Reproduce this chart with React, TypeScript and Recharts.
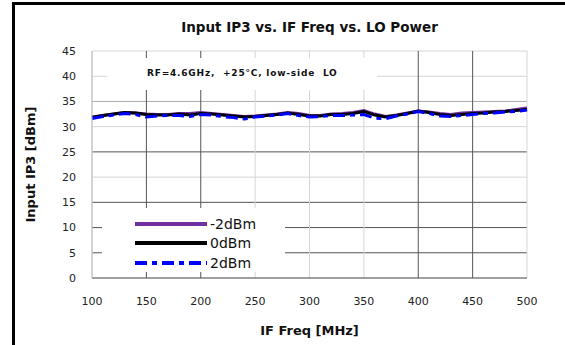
import React from 'react';
import { LineChart, Line, XAxis, YAxis, ReferenceLine, Legend } from 'recharts';

const freqs = [
  100, 110, 120, 130, 140, 150, 160, 170, 180, 190, 200, 210, 220, 230, 240, 250, 260, 270, 280, 290, 300,
  310, 320, 330, 340, 350, 360, 370, 380, 390, 400, 410, 420, 430, 440, 450, 460, 470, 480, 490, 500,
];

const ip3Minus2 = [
  31.9, 32.2, 32.5, 32.8, 32.7, 32.5, 32.4, 32.4, 32.6, 32.6, 32.8, 32.6, 32.4, 32.2, 32.0, 32.1, 32.3, 32.5, 32.8, 32.6, 32.2,
  32.2, 32.5, 32.6, 32.8, 33.2, 32.5, 32.0, 32.3, 32.7, 33.1, 32.9, 32.6, 32.4, 32.7, 32.8, 32.9, 33.0, 33.1, 33.4, 33.7,
];
const ip3Zero = [
  31.8, 32.2, 32.5, 32.8, 32.7, 32.4, 32.3, 32.3, 32.5, 32.3, 32.6, 32.5, 32.3, 32.1, 31.9, 32.0, 32.2, 32.4, 32.7, 32.4, 32.1,
  32.1, 32.4, 32.4, 32.6, 33.0, 32.3, 31.9, 32.2, 32.6, 33.1, 32.8, 32.4, 32.2, 32.4, 32.6, 32.7, 32.9, 33.0, 33.2, 33.4,
];
const ip3Plus2 = [
  31.6, 32.0, 32.3, 32.6, 32.4, 31.9, 32.1, 32.2, 32.2, 32.0, 32.4, 32.3, 32.0, 31.8, 31.5, 31.9, 32.1, 32.3, 32.6, 32.2, 31.9,
  32.0, 32.2, 32.2, 32.3, 32.4, 31.7, 31.6, 32.1, 32.5, 33.0, 32.6, 32.1, 32.0, 32.2, 32.4, 32.6, 32.7, 32.9, 33.0, 33.3,
];

const xTicks = [100, 150, 200, 250, 300, 350, 400, 450, 500];
const yTicks = [0, 5, 10, 15, 20, 25, 30, 35, 40, 45];

// the scanned original has some grid lines darker than others
const darkX = [150, 200, 400, 450];
const darkY = [5, 10, 15, 25];
const midY = [35];

const series = [
  { key: 'm2', name: '-2dBm', color: '#7030a0', dash: undefined },
  { key: 'z0', name: '0dBm', color: '#000000', dash: undefined },
  { key: 'p2', name: '2dBm', color: '#0000ff', dash: '12 5 5 5' },
];

const data = freqs.map((f, i) => ({ freq: f, m2: ip3Minus2[i], z0: ip3Zero[i], p2: ip3Plus2[i] }));

const FONT = '"DejaVu Sans", Verdana, sans-serif';

const YTitle = ({ viewBox }: any) => {
  const cx = viewBox.x + 30;
  const cy = viewBox.y + viewBox.height / 2;
  return (
    <text x={cx} y={cy} transform={`rotate(-90 ${cx} ${cy})`} textAnchor="middle" dominantBaseline="central"
      fontFamily={FONT} fontWeight="bold" fontSize={13} fill="#111">
      Input IP3 [dBm]
    </text>
  );
};

const XTitle = ({ viewBox }: any) => (
  <text x={viewBox.x + viewBox.width / 2} y={330} textAnchor="middle" dominantBaseline="central"
    fontFamily={FONT} fontWeight="bold" fontSize={13} fill="#111">
    IF Freq [MHz]
  </text>
);

const renderLegend = () => (
  <div style={{ paddingTop: 6, paddingLeft: 33, fontFamily: FONT, fontSize: 14, color: '#111' }}>
    {series.map((s) => (
      <div key={s.key} style={{ display: 'flex', alignItems: 'center', height: 19.5 }}>
        <svg width={72} height={6}>
          <line x1={0} y1={3} x2={72} y2={3} stroke={s.color} strokeWidth={4} strokeDasharray={s.dash} />
        </svg>
        <span style={{ marginLeft: 3 }}>{s.name}</span>
      </div>
    ))}
  </div>
);

export default function App() {
  return (
    <div style={{ position: 'absolute', left: 0, top: 0, width: 565, height: 345, background: '#fff' }}>
      <div style={{ position: 'absolute', left: 12, top: 2, width: 553, height: 343, borderTop: '3px solid #000', borderLeft: '3px solid #000', boxSizing: 'border-box' }} />
      <div style={{ position: 'absolute', left: 92, width: 435, top: 19, textAlign: 'center', fontFamily: FONT, fontWeight: 'bold', fontSize: 13.5, color: '#111' }}>
        Input IP3 vs. IF Freq vs. LO Power
      </div>
      <LineChart width={565} height={345} data={data} margin={{ top: 51, right: 38, bottom: 0, left: 0 }}>
        {yTicks.map((v) => (
          <ReferenceLine key={'y' + v} y={v} stroke={darkY.includes(v) ? '#555' : midY.includes(v) ? '#aaa' : '#d6d6d6'} strokeWidth={1} />
        ))}
        {xTicks.map((v) => (
          <ReferenceLine key={'x' + v} x={v} stroke={darkX.includes(v) ? '#555' : '#d6d6d6'} strokeWidth={1} />
        ))}
        <XAxis dataKey="freq" type="number" domain={[100, 500]} ticks={xTicks} height={67}
          axisLine={{ stroke: '#555' }} tickLine={false} tickMargin={13}
          tick={{ fontFamily: FONT, fontSize: 11, fill: '#222' }} label={<XTitle />} />
        <YAxis type="number" domain={[0, 45]} ticks={yTicks} width={92} interval={0}
          axisLine={{ stroke: '#bbb' }} tickLine={false} tickMargin={10}
          tick={{ fontFamily: FONT, fontSize: 11, fill: '#222' }} label={<YTitle />} />
        {series.map((s) => (
          <Line key={s.key} dataKey={s.key} name={s.name} type="linear" stroke={s.color} strokeWidth={3}
            strokeDasharray={s.dash} dot={false} isAnimationActive={false} />
        ))}
        <Legend layout="horizontal" verticalAlign="middle" align="center" content={renderLegend}
          wrapperStyle={{ left: 102, top: 208, width: 183, height: 64, background: '#fff' }} />
      </LineChart>
      <div style={{ position: 'absolute', left: 107, top: 58, width: 270, height: 32, background: '#fff' }}>
        <div style={{ position: 'absolute', left: 40, top: 10, fontFamily: FONT, fontWeight: 'bold', fontSize: 9, letterSpacing: 0.8, whiteSpace: 'pre', color: '#111' }}>
          RF=4.6GHz,  +25°C, low-side  LO
        </div>
      </div>
    </div>
  );
}
